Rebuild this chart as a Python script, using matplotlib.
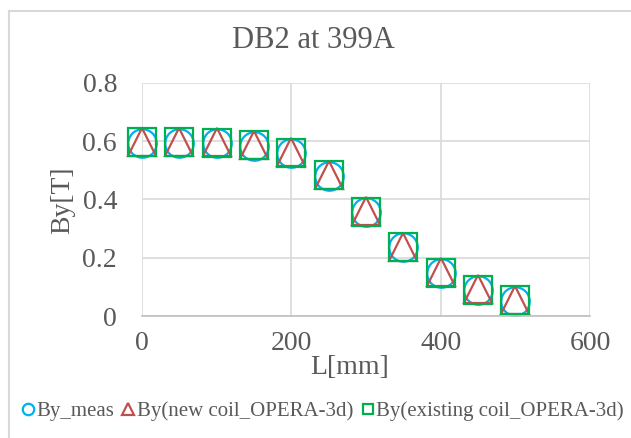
import matplotlib.pyplot as plt
from matplotlib.lines import Line2D

plt.rcParams['font.family'] = ['Liberation Serif', 'DejaVu Serif']

L_mm = [0, 50, 100, 150, 200, 250, 300, 350, 400, 450, 500]
by_meas = [0.595, 0.594, 0.594, 0.584, 0.558, 0.481, 0.357, 0.237, 0.148, 0.089, 0.053]
by_new = [0.598, 0.598, 0.597, 0.588, 0.562, 0.485, 0.362, 0.238, 0.150, 0.091, 0.056]
by_existing = [0.597, 0.596, 0.595, 0.586, 0.560, 0.483, 0.358, 0.236, 0.149, 0.090, 0.055]
x_ticks = [0, 200, 400, 600]
y_ticks = [0, 0.2, 0.4, 0.6, 0.8]
y_tick_labels = ['0', '0.2', '0.4', '0.6', '0.8']

W, H = 631, 438
fig = plt.figure(figsize=(W / 100, H / 100), dpi=100)
ax = fig.add_axes([142 / W, 1 - 316 / H, 448 / W, 233 / H])

grid_col = '#D9D9D9'
text_col = '#595959'

ax.plot(L_mm, by_meas, 'o', ms=20.5, mfc='none', mec='#00B0F0', mew=1.6,
        label='By_meas', clip_on=False)
ax.plot(L_mm, by_new, '^', ms=20, mfc='none', mec='#C0504D', mew=1.6,
        label='By(new coil_OPERA-3d)', clip_on=False)
ax.plot(L_mm, by_existing, 's', ms=19.5, mfc='none', mec='#00B050', mew=1.6,
        label='By(existing coil_OPERA-3d)', clip_on=False)

ax.set_xlim(0, 600)
ax.set_ylim(0, 0.8)
ax.set_xticks(x_ticks)
ax.set_yticks(y_ticks)
ax.set_yticklabels(y_tick_labels)
ax.grid(True, color=grid_col, lw=1.2)
ax.set_axisbelow(True)
for s in ['top', 'right', 'left']:
    ax.spines[s].set_visible(False)
ax.spines['bottom'].set_color('#BFBFBF')
ax.spines['bottom'].set_linewidth(1.2)
ax.tick_params(axis='y', length=0, labelsize=20, labelcolor=text_col, pad=18)
ax.tick_params(axis='x', length=0, labelsize=20, labelcolor=text_col, pad=11)

fig.text(313 / W, 1 - 40 / H, 'DB2 at 399A', fontsize=22, color=text_col,
         ha='center', va='center')
fig.text(350 / W, 1 - 368 / H, 'L[mm]', fontsize=20, color=text_col,
         ha='center', va='center')
fig.text(63 / W, 1 - 200 / H, 'By[T]', fontsize=20, color=text_col,
         ha='center', va='center', rotation=90)

leg = fig.legend(loc='center', bbox_to_anchor=(322 / W, 1 - 411 / H), ncol=3,
                 frameon=False, fontsize=15, markerscale=0.4,
                 handletextpad=0.05, columnspacing=0.35, handlelength=0.7,
                 labelcolor=text_col, borderpad=0)

fig.add_artist(Line2D([9 / W, 9 / W], [0, 1 - 11 / H], transform=fig.transFigure,
                      color=grid_col, lw=1.5))
fig.add_artist(Line2D([9 / W, 1], [1 - 11 / H, 1 - 11 / H], transform=fig.transFigure,
                      color=grid_col, lw=1.5))

fig.savefig('out.png', dpi=100)
